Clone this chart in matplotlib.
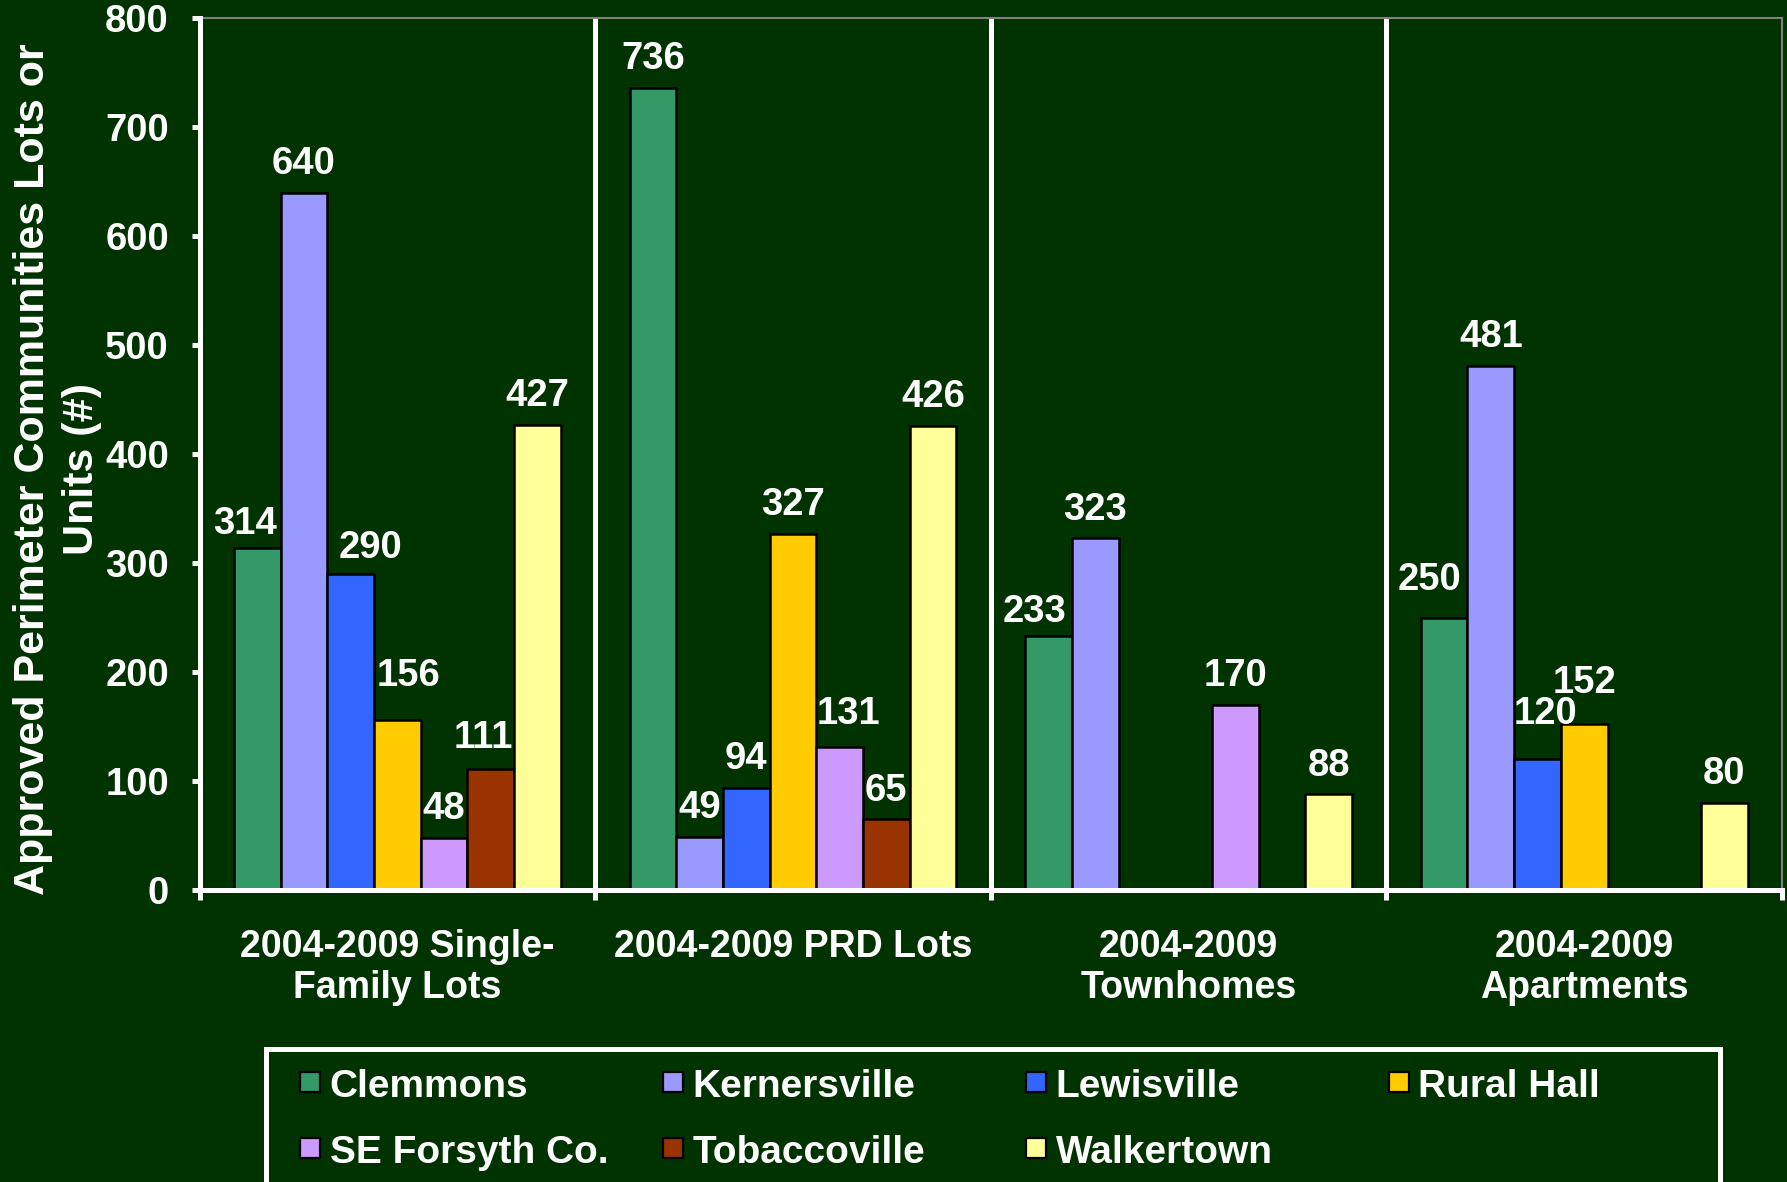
import matplotlib
matplotlib.use("Agg")
import matplotlib.pyplot as plt
from matplotlib.patches import Rectangle
import numpy as np

# ---- data -------------------------------------------------------------
categories = ["2004-2009 Single-\nFamily Lots", "2004-2009 PRD Lots",
              "2004-2009\nTownhomes", "2004-2009\nApartments"]
communities = ["Clemmons", "Kernersville", "Lewisville", "Rural Hall",
               "SE Forsyth Co.", "Tobaccoville", "Walkertown"]
clemmons = [314, 736, 233, 250]
kernersville = [640, 49, 323, 481]
lewisville = [290, 94, None, 120]
rural_hall = [156, 327, None, 152]
se_forsyth = [48, 131, 170, None]
tobaccoville = [111, 65, None, None]
walkertown = [427, 426, 88, 80]
y_ticks = [0, 100, 200, 300, 400, 500, 600, 700, 800]
y_label = "Approved Perimeter Communities Lots or\nUnits (#)"

series = [clemmons, kernersville, lewisville, rural_hall,
          se_forsyth, tobaccoville, walkertown]

# ---- styling ------------------------------------------------------------
BG = "#003300"
colors = ["#339966", "#9999FF", "#3366FF", "#FFCC00",
          "#CC99FF", "#993300", "#FFFF99"]
FONT = "Liberation Sans"
FS = 27.5

# per-label nudges (points) where labels sit off their default spot
label_nudge = {
    (0, 0): (-9, 10), (2, 0): (14, 11.6), (3, 0): (8, 24.7), (5, 0): (-5, 14.9),
    (4, 1): (6.5, 16.5),
    (0, 2): (-10, 10),
    (0, 3): (-10.5, 19.8), (2, 3): (6, 25.6), (3, 3): (0, 22.3),
}
default_nudge = (0, 13.3)

plt.rcParams["font.family"] = [FONT, "DejaVu Sans"]
plt.rcParams["font.weight"] = "bold"

W, H = 1787, 1182
fig = plt.figure(figsize=(W / 100, H / 100), dpi=100, facecolor=BG)
ax = fig.add_axes([199.5 / W, 1 - 890 / H, (1782 - 199.5) / W, (890 - 18.2) / H])
ax.set_facecolor(BG)

n = len(series)
bar_w = 0.118
x = np.arange(len(categories))
for i, (vals, col) in enumerate(zip(series, colors)):
    offs = (i - (n - 1) / 2) * bar_w
    for g, v in enumerate(vals):
        if v is None:
            continue
        ax.bar(x[g] + offs, v, width=bar_w, color=col, edgecolor="black",
               linewidth=1.8, zorder=3)
        dx, dy = label_nudge.get((i, g), default_nudge)
        ax.annotate(str(v), (x[g] + offs, v), xytext=(dx, dy),
                    textcoords="offset points", ha="center", va="baseline",
                    color="white", fontsize=FS, fontweight="bold", zorder=4)

ax.set_xlim(-0.5, len(categories) - 0.5)
ax.set_ylim(0, 800)

# group separators
for b in np.arange(0.5, len(categories) - 0.5, 1):
    ax.axvline(b, color="white", lw=3.6, zorder=2)

# spines
for s in ("left", "bottom"):
    ax.spines[s].set_color("white")
    ax.spines[s].set_linewidth(3.6)
    ax.spines[s].set_zorder(5)
for s in ("top", "right"):
    ax.spines[s].set_color("#808080")
    ax.spines[s].set_linewidth(1.5)

ax.set_yticks(y_ticks)
ax.set_yticklabels([str(t) for t in y_ticks])
ax.tick_params(axis="y", direction="out", length=6, width=3.6, color="white",
               labelcolor="white", labelsize=FS, pad=16)

ax.set_xticks(np.arange(-0.5, len(categories), 1))
ax.set_xticklabels([])
ax.tick_params(axis="x", which="major", direction="out", length=7, width=3.6,
               color="white")
ax.set_xticks(x, minor=True)
ax.set_xticklabels(categories, minor=True)
ax.tick_params(axis="x", which="minor", length=0, pad=28, labelcolor="white",
               labelsize=27)
for t in ax.get_xticklabels(minor=True):
    t.set_fontweight("bold")
    t.set_linespacing(1.2)
for t in ax.get_yticklabels():
    t.set_fontweight("bold")

fig.text(57.5 / W, 1 - 469 / H, y_label, rotation=90, ha="center", va="center",
         multialignment="center", color="white", fontsize=31,
         fontweight="bold", linespacing=1.3)

# ---- legend box ---------------------------------------------------------
fig.add_artist(Rectangle((266 / W, -0.05), (1720 - 266) / W, (H - 1049) / H + 0.05,
                         transform=fig.transFigure, fill=False,
                         edgecolor="white", linewidth=3.6))
col_x = [300, 663, 1026, 1389]
row_base = [1097, 1163]
for k, (name, col) in enumerate(zip(communities, colors)):
    r, c = divmod(k, 4)
    mx, base = col_x[c], row_base[r]
    fig.add_artist(Rectangle((mx / W, 1 - (base - 5) / H), 20 / W, 20 / H,
                             transform=fig.transFigure, facecolor=col,
                             edgecolor="black", linewidth=1.6))
    fig.text((mx + 29.5) / W, 1 - base / H, name, ha="left", va="baseline",
             color="white", fontsize=28, fontweight="bold")

fig.savefig("out.png", dpi=100, facecolor=BG)
